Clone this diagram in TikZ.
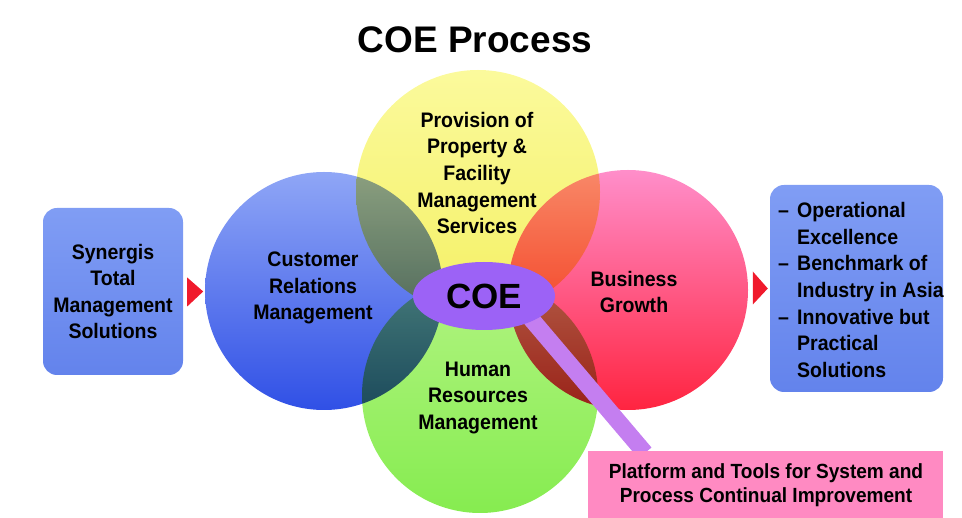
\documentclass[tikz,border=0pt]{standalone}
\usepackage{fontspec}
\setmainfont{Liberation Sans}
\newfontfamily\narrowsans[FakeStretch=0.93]{Liberation Sans}
\usetikzlibrary{calc,shapes.geometric,backgrounds}

\definecolor{bluetop}{HTML}{8FA6F6}
\definecolor{bluebot}{HTML}{3050E6}
\definecolor{yeltop}{HTML}{FBFA9C}
\definecolor{yelbot}{HTML}{F4F064}
\definecolor{pinktop}{HTML}{FF8ECA}
\definecolor{redbot}{HTML}{FF2440}
\definecolor{greentop}{HTML}{B2F482}
\definecolor{greenbot}{HTML}{86EC50}
\definecolor{coeviolet}{HTML}{9C62F6}
\definecolor{barlilac}{HTML}{C47EF0}
\definecolor{boxtop}{HTML}{809DF4}
\definecolor{boxbot}{HTML}{6383EC}
\definecolor{platpink}{HTML}{FF8AC2}
\definecolor{arrowred}{HTML}{F01A2C}

\tikzset{
	txt/.style={font=\narrowsans\fontsize{21}{26.6}\selectfont\bfseries, align=center, inner sep=0pt},
	sidebox/.style={rounded corners=14pt, top color=boxtop, bottom color=boxbot, inner sep=0pt},
	platbox/.style={fill=platpink, inner sep=0pt},
	tri/.style={fill=arrowred},
	bar/.style={draw=barlilac, line width=17pt}
}
\newcommand{\itm}{\makebox[19pt][l]{\textendash}}

\begin{document}
\begin{tikzpicture}[x=1pt,y=-1pt]
\useasboundingbox (0,0) rectangle (962,518);

% title
\node[font=\fontsize{37}{40}\selectfont\bfseries] (title) at (475,40) {COE Process};

% circle texts
\node[txt] (property) at (477,173) {Provision of\\Property \&\\Facility\\Management\\Services};
\node[txt] (crm) at (313,288) {Customer\\Relations\\Management};
\node[txt] (growth) at (634,292) {Business\\Growth};
\node[txt] (hrm) at (478,398) {Human\\Resources\\Management};

% side boxes
\node[sidebox, minimum width=140pt, minimum height=167pt, txt] (synergis) at (113,291.5)
	{Synergis\\Total\\Management\\Solutions};
\node[sidebox, minimum width=173pt, minimum height=207pt] (outcomes) at (856.5,288.5) {};
\node[txt, align=left, anchor=west] (goals) at (778,290)
	{\itm Operational\\\phantom{\itm}Excellence\\\itm Benchmark of\\\phantom{\itm}Industry in Asia\\\itm Innovative but\\\phantom{\itm}Practical\\\phantom{\itm}Solutions};

% red pointers
\fill[tri] ($(synergis.east)+(4,-14)$) -- ++(16,14) -- ++(-16,15) -- cycle;
\fill[tri] ($(outcomes.west)+(-17,-17)$) -- ++(15,17) -- ++(-15,16) -- cycle;

% platform box
\node[platbox, minimum width=355pt, minimum height=74pt, anchor=north west] (platform) at (588,451) {};
\node[txt, font=\narrowsans\fontsize{20.5}{24.5}\selectfont\bfseries] (platformtxt) at (766,485)
	{Platform and Tools for System and\\Process Continual Improvement};

% centre
\node[ellipse, fill=coeviolet, minimum width=142pt, minimum height=68pt, inner sep=0pt,
	font=\fontsize{35}{40}\selectfont\bfseries] (coe) at (484,296) {COE};
\coordinate (bartip) at ($(platform.north west)+(57,2)$);

\begin{scope}[on background layer]
% the four circles, overlaps darkened by multiplying
\begin{scope}[blend group=multiply]
\shade[top color=yeltop, bottom color=yelbot] (478,192) circle (122pt);
\shade[top color=bluetop, bottom color=bluebot] (324,291) circle (119pt);
\shade[top color=pinktop, bottom color=redbot] (628,290) circle (120pt);
\shade[top color=greentop, bottom color=greenbot] (480,395) circle (118pt);
\end{scope}
\draw[bar] ($(coe.-27)!-14pt!(bartip)$) -- (bartip);
\end{scope}
\end{tikzpicture}
\end{document}
